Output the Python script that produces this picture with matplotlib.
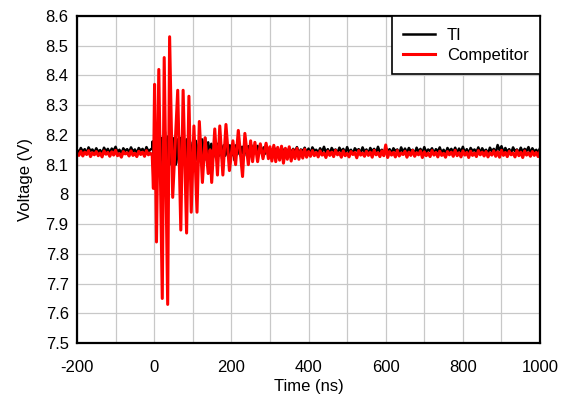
import numpy as np
import matplotlib.pyplot as plt
from matplotlib.ticker import FormatStrFormatter, MultipleLocator

plt.rcParams['font.family'] = ['Liberation Sans', 'DejaVu Sans']
plt.rcParams['axes.unicode_minus'] = False

# TI trace (black)
ti_pre_t = np.arange(-200, -4, 5)
ti_pre_v = [8.150, 8.141, 8.156, 8.144, 8.152, 8.138, 8.158, 8.146, 8.151, 8.140,
            8.155, 8.143, 8.149, 8.137, 8.157, 8.145, 8.153, 8.139, 8.154, 8.147,
            8.160, 8.142, 8.150, 8.136, 8.155, 8.146, 8.152, 8.141, 8.158, 8.144,
            8.151, 8.138, 8.156, 8.147, 8.153, 8.140, 8.159, 8.145, 8.150, 8.155]
ti_burst_t = np.arange(-4, 297, 4)
ti_burst_v = [8.178, 8.105, 8.190, 8.100, 8.200, 8.095, 8.190, 8.100, 8.210, 8.090,
              8.195, 8.100, 8.205, 8.110, 8.190, 8.100, 8.185, 8.105, 8.190, 8.110,
              8.180, 8.100, 8.185, 8.115, 8.190, 8.090, 8.175, 8.110, 8.180, 8.115,
              8.170, 8.120, 8.185, 8.120, 8.190, 8.115, 8.175, 8.125, 8.170, 8.120,
              8.175, 8.125, 8.170, 8.130, 8.175, 8.120, 8.165, 8.130, 8.170, 8.125,
              8.165, 8.130, 8.170, 8.115, 8.165, 8.135, 8.170, 8.130, 8.160, 8.135,
              8.165, 8.130, 8.162, 8.140, 8.165, 8.135, 8.160, 8.140, 8.163, 8.138,
              8.160, 8.140, 8.158, 8.137, 8.160, 8.140]
ti_post_t = np.arange(300, 1001, 5)
ti_post_v = [8.155, 8.140, 8.160, 8.143, 8.152, 8.138, 8.158, 8.146, 8.150, 8.141,
             8.156, 8.139, 8.153, 8.144, 8.159, 8.137, 8.151, 8.145, 8.157, 8.140,
             8.154, 8.136, 8.158, 8.147, 8.150, 8.139, 8.155, 8.143, 8.160, 8.141,
             8.152, 8.137, 8.156, 8.146, 8.151, 8.140, 8.157, 8.144, 8.153, 8.138,
             8.159, 8.142, 8.150, 8.136, 8.155, 8.147, 8.152, 8.139, 8.158, 8.143,
             8.151, 8.137, 8.156, 8.145, 8.153, 8.140, 8.160, 8.141, 8.150, 8.138,
             8.157, 8.144, 8.152, 8.139, 8.155, 8.146, 8.151, 8.137, 8.158, 8.142,
             8.154, 8.140, 8.156, 8.145, 8.150, 8.136, 8.157, 8.143, 8.153, 8.139,
             8.159, 8.141, 8.151, 8.146, 8.155, 8.138, 8.152, 8.144, 8.158, 8.140,
             8.150, 8.137, 8.156, 8.145, 8.153, 8.141, 8.157, 8.139, 8.154, 8.143,
             8.160, 8.140, 8.152, 8.138, 8.156, 8.146, 8.151, 8.142, 8.158, 8.139,
             8.155, 8.144, 8.150, 8.137, 8.157, 8.145, 8.153, 8.140, 8.166, 8.148,
             8.162, 8.141, 8.156, 8.143, 8.152, 8.139, 8.158, 8.145, 8.151, 8.140,
             8.157, 8.142, 8.153, 8.146, 8.159, 8.138, 8.155, 8.144, 8.150, 8.141,
             8.156]

# Competitor trace (red)
comp_pre_t = np.arange(-200, -4, 5)
comp_pre_v = [8.138, 8.131, 8.145, 8.129, 8.142, 8.134, 8.147, 8.127, 8.140, 8.133,
              8.144, 8.130, 8.139, 8.126, 8.146, 8.135, 8.141, 8.128, 8.143, 8.132,
              8.148, 8.130, 8.137, 8.125, 8.144, 8.136, 8.140, 8.129, 8.146, 8.131,
              8.138, 8.127, 8.145, 8.134, 8.142, 8.128, 8.147, 8.133, 8.139, 8.130]
comp_burst_t = [-2, 1, 6, 12, 21, 26, 35, 40, 48, 61, 69, 75, 84, 90, 96, 103, 111,
                117, 125, 132, 140, 145, 149, 157, 164, 170, 178, 186, 195, 204, 211,
                218, 229, 235, 244, 250, 255, 261, 268, 275, 282, 290, 296]
comp_burst_v = [8.02, 8.37, 7.84, 8.42, 7.65, 8.46, 7.63, 8.53, 7.99, 8.35, 7.88,
                8.35, 7.87, 8.33, 7.94, 8.23, 7.94, 8.245, 8.04, 8.19, 8.07, 8.15,
                8.04, 8.22, 8.065, 8.23, 8.065, 8.235, 8.08, 8.18, 8.10, 8.215,
                8.06, 8.205, 8.10, 8.18, 8.11, 8.175, 8.11, 8.17, 8.12, 8.172, 8.12]
comp_post_t = np.arange(300, 1001, 5)
comp_post_v = [8.160, 8.112, 8.165, 8.110, 8.158, 8.115, 8.162, 8.105, 8.155, 8.118,
               8.160, 8.112, 8.150, 8.120, 8.155, 8.118, 8.148, 8.122, 8.152, 8.125,
               8.144, 8.128, 8.147, 8.130, 8.141, 8.126, 8.146, 8.132, 8.139, 8.124,
               8.145, 8.131, 8.142, 8.127, 8.148, 8.133, 8.140, 8.125, 8.146, 8.130,
               8.138, 8.126, 8.144, 8.134, 8.141, 8.123, 8.147, 8.132, 8.139, 8.128,
               8.145, 8.131, 8.142, 8.125, 8.148, 8.133, 8.140, 8.127, 8.146, 8.130,
               8.166, 8.124, 8.144, 8.132, 8.141, 8.126, 8.147, 8.129, 8.139, 8.134,
               8.145, 8.125, 8.142, 8.131, 8.148, 8.128, 8.140, 8.133, 8.146, 8.124,
               8.143, 8.130, 8.139, 8.127, 8.147, 8.132, 8.141, 8.126, 8.145, 8.131,
               8.138, 8.125, 8.144, 8.133, 8.142, 8.128, 8.148, 8.130, 8.140, 8.126,
               8.146, 8.132, 8.141, 8.124, 8.145, 8.131, 8.139, 8.127, 8.147, 8.133,
               8.142, 8.129, 8.144, 8.126, 8.140, 8.132, 8.146, 8.128, 8.143, 8.125,
               8.148, 8.131, 8.141, 8.127, 8.145, 8.133, 8.139, 8.126, 8.147, 8.130,
               8.142, 8.124, 8.146, 8.132, 8.140, 8.128, 8.144, 8.131, 8.141, 8.127,
               8.145]

ti_t = np.concatenate([ti_pre_t, ti_burst_t, ti_post_t])
ti_v = np.array(ti_pre_v + ti_burst_v + ti_post_v)
comp_t = np.concatenate([comp_pre_t, comp_burst_t, comp_post_t])
comp_v = np.array(comp_pre_v + comp_burst_v + comp_post_v)

fig = plt.figure(figsize=(5.62, 3.98), dpi=100)
ax = fig.add_axes([0.137, 0.138, 0.824, 0.822])

ax.plot(ti_t, ti_v, color='black', lw=1.8, label='TI')
ax.plot(comp_t, comp_v, color='#ff0000', lw=2.2, label='Competitor')

ax.set_xlim(-200, 1000)
ax.set_ylim(7.5, 8.6)
ax.xaxis.set_major_locator(MultipleLocator(200))
ax.xaxis.set_minor_locator(MultipleLocator(100))
ax.yaxis.set_major_locator(MultipleLocator(0.1))
ax.yaxis.set_major_formatter(FormatStrFormatter('%g'))
ax.grid(True, which='both', color='#c8c8c8', lw=0.9)
ax.set_axisbelow(True)
ax.tick_params(which='both', length=0, labelsize=12)
ax.tick_params(axis='x', pad=12)
ax.tick_params(axis='y', pad=6)
for s in ax.spines.values():
    s.set_linewidth(1.6)

ax.set_xlabel('Time (ns)', fontsize=12, labelpad=3)
ax.set_ylabel('Voltage (V)', fontsize=12, labelpad=9)

leg = ax.legend(loc='upper right', fontsize=12, fancybox=False, framealpha=1,
                edgecolor='black', borderaxespad=0, handlelength=1.9,
                handletextpad=0.7, labelspacing=0.3, borderpad=0.7)
leg.get_frame().set_linewidth(1.2)

fig.savefig('out.png', dpi=100)
